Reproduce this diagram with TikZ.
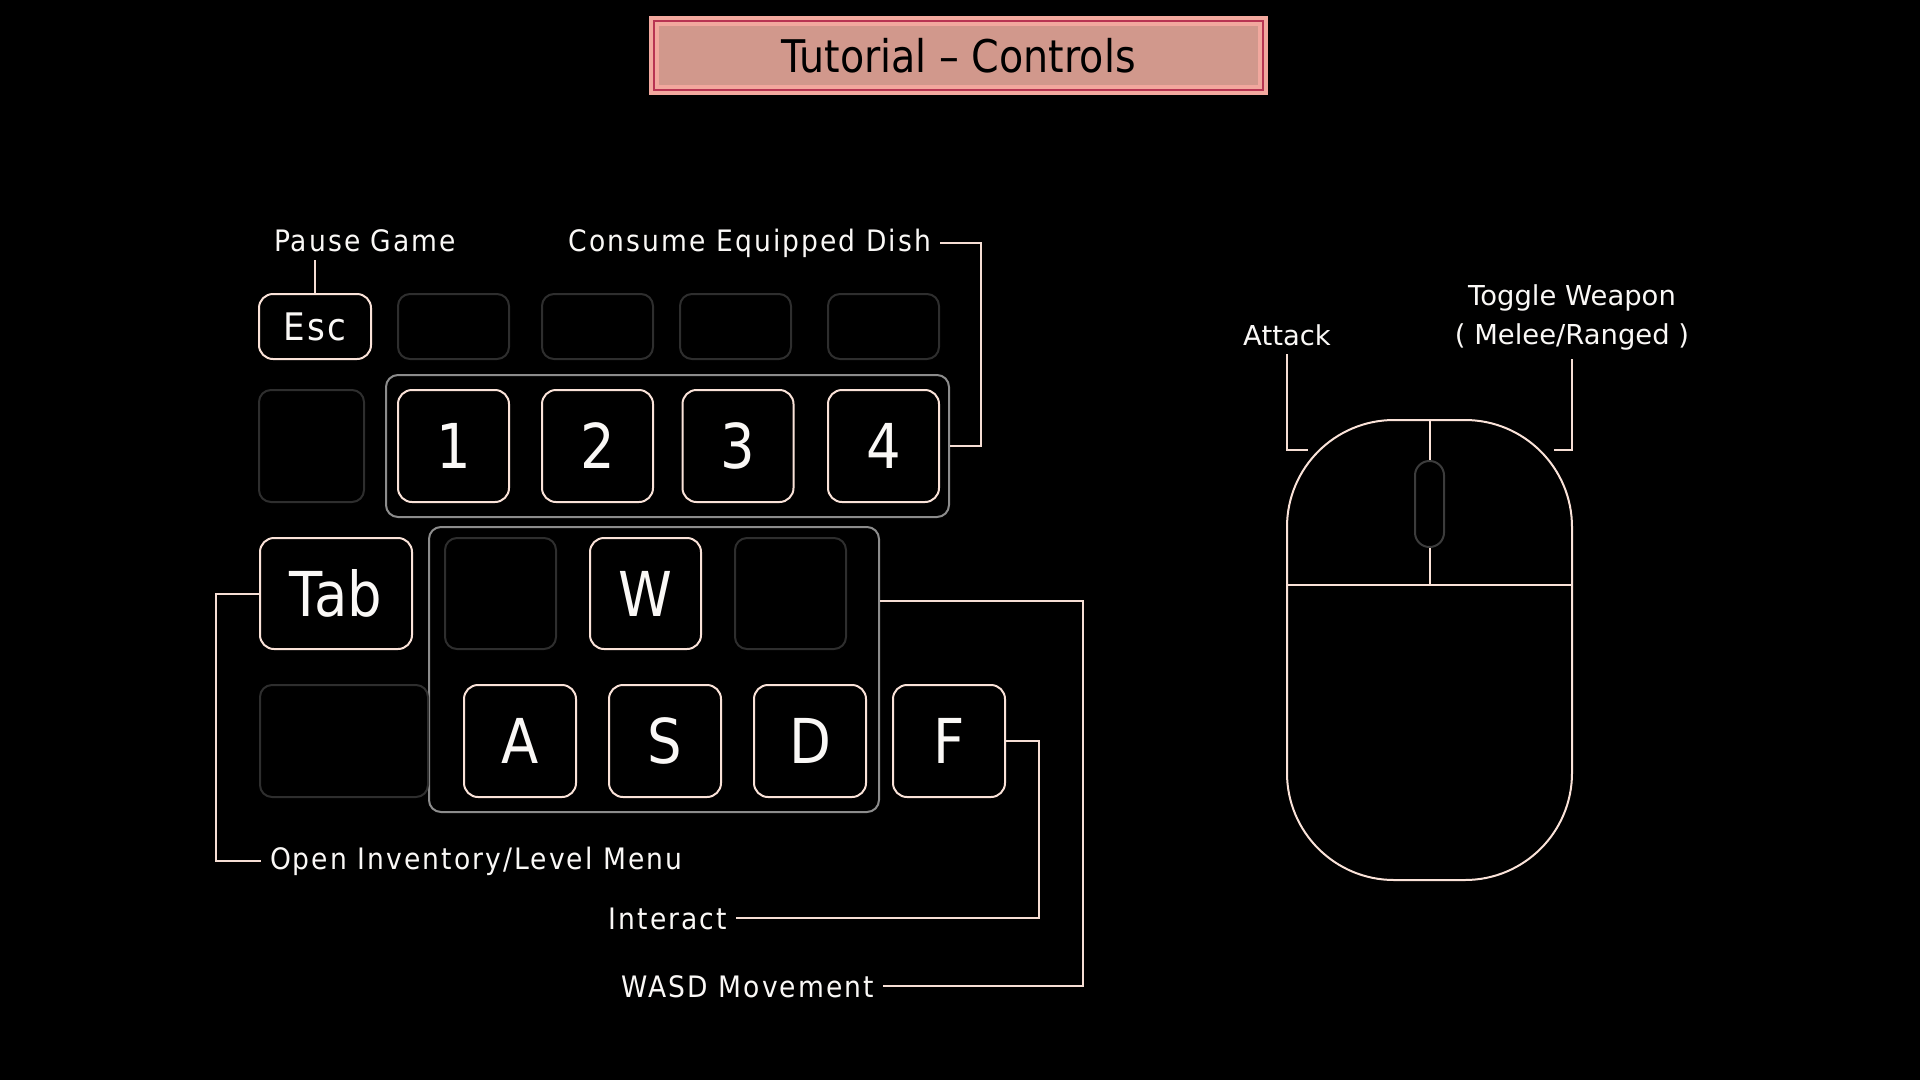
\documentclass[tikz,border=0pt]{standalone}
\usepackage{fontspec}
\setmainfont{DejaVu Sans}
\newfontfamily\keyfont[FakeStretch=0.88]{DejaVu Sans}
\newfontfamily\tagfont[FakeStretch=0.9,LetterSpace=7]{DejaVu Sans}
\definecolor{keyrim}{RGB}{250,226,216}
\definecolor{dimrim}{RGB}{46,46,46}
\definecolor{wheelrim}{RGB}{60,60,60}
\definecolor{grprim}{RGB}{140,140,140}
\definecolor{leadcol}{RGB}{246,222,212}
\definecolor{inkwhite}{RGB}{250,248,246}
\definecolor{titlesoft}{RGB}{242,168,158}
\definecolor{titledark}{RGB}{184,52,82}
\definecolor{titlefill}{RGB}{209,152,140}
\tikzset{
  keydim/.style 2 args={minimum width=#1*0.025cm, minimum height=#2*0.025cm},
  keycap/.style={draw=keyrim, fill=black, rounded corners=0.35cm, line width=0.05cm,
                 inner sep=0pt, text=inkwhite, font=\keyfont\fontsize{44}{48}\selectfont},
  keyblank/.style={draw=dimrim, fill=black, rounded corners=0.3cm, line width=0.05cm, inner sep=0pt},
  keygroup/.style={draw=grprim, rounded corners=0.3cm, line width=0.05cm, inner sep=0pt},
  tag/.style={inner sep=0pt, outer sep=0.225cm, text=inkwhite, font=\tagfont\fontsize{21}{25}\selectfont},
  mtag/.style={inner sep=0pt, outer sep=0.225cm, text=inkwhite, align=center,
               font=\fontsize{19.5}{27.7}\selectfont},
  lead/.style={draw=leadcol, line width=0.05cm},
  mouseline/.style={draw=keyrim, line width=0.05cm, inner sep=0pt, outer sep=0pt},
  titlebox/.style={preaction={fill=titlefill, draw=titlesoft, line width=0.26cm},
                   draw=titledark, line width=0.06cm, inner sep=0pt, text=black,
                   font=\keyfont\fontsize{32}{36}\selectfont},
}
\begin{document}
\begin{tikzpicture}[x=0.025cm,y=-0.025cm]
  \fill[black] (0,0) rectangle (1920,1080);
  \useasboundingbox (0,0) rectangle (1920,1080);
  % ---- title ----
  \node[titlebox, keydim={609}{69}] (title) at (958.5,55.5) {Tutorial – Controls};
  % ---- row 1 ----
  \node[keycap, keydim={112}{65}, font=\tagfont\fontsize{27}{30}\selectfont] (esc) at (315,326.5) {Esc};
  \foreach \n/\x in {b1/453.5,b2/597.5,b3/735.5,b4/883.5}{
    \node[keyblank, keydim={111}{65}] (\n) at (\x,326.5) {};}
  % ---- row 2 ----
  \node[keygroup, keydim={563}{142}] (numgrp) at (667.5,446) {};
  \node[keyblank, keydim={105}{112}] (b5) at (311.5,446) {};
  \foreach \n/\k/\x in {one/1/453.5,two/2/597.5,three/3/738,four/4/883.5}{
    \node[keycap, keydim={111}{112}] (\n) at (\x,446) {\k};}
  % ---- row 3 + 4 ----
  \node[keygroup, keydim={450}{285}] (wasdgrp) at (654,669.5) {};
  \node[keycap, keydim={152}{111}] (tab) at (336,593.5) {Tab};
  \node[keyblank, keydim={111}{111}] (b6) at (500.5,593.5) {};
  \node[keycap, keydim={111}{111}] (w) at (645.5,593.5) {W};
  \node[keyblank, keydim={111}{111}] (b7) at (790.5,593.5) {};
  \node[keyblank, keydim={168}{112}] (b8) at (344,741) {};
  \foreach \n/\k/\x in {a/A/520,s/S/665,d/D/810,f/F/949}{
    \node[keycap, keydim={112}{112}] (\n) at (\x,741) {\k};}
  % ---- labels ----
  \node[tag, anchor=base west] (pause) at (265,251) {Pause Game};
  \node[tag, anchor=base east] (dish) at (940,251) {Consume Equipped Dish};
  \node[tag, anchor=base west] (inventory) at (261,869) {Open Inventory/Level Menu};
  \node[tag, anchor=base east] (interact) at (736,929) {Interact};
  \node[tag, anchor=base east] (wasd) at (883,997) {WASD Movement};
  % ---- leads ----
  \coordinate (dishx) at (981,240);
  \coordinate (tabx) at (216,0);
  \coordinate (fx) at (1039,0);
  \coordinate (wasdx) at (1083,601);
  \draw[lead] (esc.north) -- (esc.north |- pause.south);
  \draw[lead] (dish.east) -- (dish.east -| dishx) |- (numgrp.east);
  \draw[lead] (tab.west) -- (tab.west -| tabx) |- (inventory.west);
  \draw[lead] (f.east) -- (f.east -| fx) |- (interact.east);
  \draw[lead] (wasdx -| wasdgrp.east) -- (wasdx) |- (wasd.east);
  % ---- mouse ----
  \node[mouseline, rounded corners=2.675cm, keydim={285}{460}] (mouse) at (1429.5,650) {};
  \node[draw=wheelrim, line width=0.05cm, rounded corners=0.36cm, inner sep=0pt,
        keydim={29}{86}] (wheel) at (1429.5,504) {};
  \coordinate (split) at (1429.5,584.5);
  \draw[mouseline] (mouse.north) -- (wheel.north);
  \draw[mouseline] (wheel.south) -- (split);
  \draw[mouseline] (split -| mouse.west) -- (split -| mouse.east);
  \node[mtag, anchor=base] (attack) at (1287,345) {Attack};
  \node[mtag, anchor=south] (toggle) at (1572,359) {Toggle Weapon\\( Melee/Ranged )};
  \coordinate (atkend) at (1308,450);
  \coordinate (tglend) at (1554,450);
  \draw[lead] (attack.south) |- (atkend);
  \draw[lead] (toggle.south) |- (tglend);
\end{tikzpicture}
\end{document}
